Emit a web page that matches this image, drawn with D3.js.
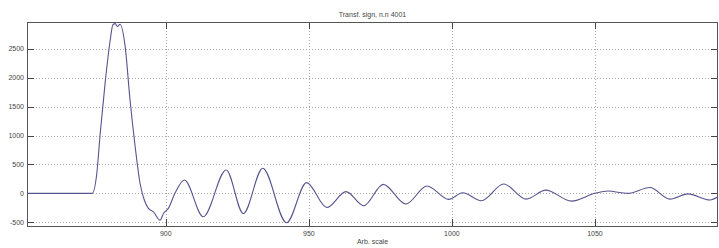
<!DOCTYPE html>
<html>
<head>
<meta charset="utf-8">
<script src="https://cdn.jsdelivr.net/npm/d3@7"></script>
<style>
	body { margin: 0; background: #fff; }
	text { font-family: "Liberation Sans", Arial, sans-serif; fill: #444; }
</style>
</head>
<body>
<div id="chart"></div>
<script>
var WIDTH = 719
var HEIGHT = 248

var title = "Transf. sign, n.n 4001";
var xLabel = "Arb. scale";

var xTicks = [900, 950, 1000, 1050];
var yTicks = [-500, 0, 500, 1000, 1500, 2000, 2500];

// signal (x in arb. scale, y amplitude)
var signalX = [851.5, 860, 870, 874.3, 875.9, 877.1, 878.8, 880.6, 881.5, 882.3, 883.1, 884.0,
	885.8, 887.5, 889.3, 891.0, 892.5, 893.9, 895.7, 898.0, 899.2, 900.9, 903.2, 906.5,
	913.1, 921.1, 927.1, 933.9, 942.2, 949.2, 956.3, 963.0, 969.2, 976.0, 983.9, 991.3,
	998.9, 1003.8, 1010.3, 1018.1, 1026.0, 1032.8, 1041.8, 1050.0, 1054.5, 1061.5, 1069.2,
	1076.2, 1082.5, 1090.2, 1093.0];
var signalY = [0, 0, 0, 0, 347, 1045, 1910, 2660, 2920, 2940, 2890, 2930,
	2545, 1620, 810, 175, -115, -260, -320, -465, -350, -260, 0, 230,
	-405, 405, -350, 435, -510, 185, -245, 30, -215, 155, -185, 127,
	-105, 10, -128, 162, -100, 55, -135, 0, 40, 0, 100,
	-100, -10, -115, -60];

var margin = {left: 27, top: 22, right: 1, bottom: 22};
var plotW = WIDTH - margin.left - margin.right;
var plotH = HEIGHT - margin.top - margin.bottom;

var x = d3.scaleLinear().domain([851.5, 1093]).range([0, plotW]);
var y = d3.scaleLinear().domain([-566, 2968]).range([plotH, 0]);

var svg = d3.select("#chart")
	.append("svg")
	.attr("width", WIDTH)
	.attr("height", HEIGHT);

var g = svg.append("g")
	.attr("transform", "translate(" + margin.left + "," + margin.top + ")");

// grid
g.selectAll(".ygrid")
	.data(yTicks)
	.enter().append("line")
	.attr("class", "ygrid")
	.attr("x1", 0).attr("x2", plotW)
	.attr("y1", function(d) { return Math.round(y(d)) + 0.5; })
	.attr("y2", function(d) { return Math.round(y(d)) + 0.5; })
	.style("stroke", "#aaa")
	.style("stroke-dasharray", "1,2");

g.selectAll(".xgrid")
	.data(xTicks)
	.enter().append("line")
	.attr("class", "xgrid")
	.attr("y1", 0).attr("y2", plotH)
	.attr("x1", function(d) { return Math.round(x(d)) + 0.5; })
	.attr("x2", function(d) { return Math.round(x(d)) + 0.5; })
	.style("stroke", "#aaa")
	.style("stroke-dasharray", "1,2");

// ticks (inward, on all four sides)
var TL = 7;
g.selectAll(".ytick")
	.data(yTicks)
	.enter().append("path")
	.attr("d", function(d) {
		var yy = Math.round(y(d)) + 0.5;
		return "M0," + yy + "h" + TL + "M" + plotW + "," + yy + "h" + (-TL);
	})
	.style("stroke", "#444");

g.selectAll(".xtick")
	.data(xTicks)
	.enter().append("path")
	.attr("d", function(d) {
		var xx = Math.round(x(d)) + 0.5;
		return "M" + xx + ",0v" + TL + "M" + xx + "," + plotH + "v" + (-TL);
	})
	.style("stroke", "#444");

// box
g.append("rect")
	.attr("x", 0.5).attr("y", 0.5)
	.attr("width", plotW - 1).attr("height", plotH)
	.style("fill", "none")
	.style("stroke", "#555");

// tick labels
g.selectAll(".ylab")
	.data(yTicks)
	.enter().append("text")
	.attr("x", -3)
	.attr("y", function(d) { return y(d); })
	.attr("dy", "0.35em")
	.attr("text-anchor", "end")
	.style("font-size", "7px")
	.text(function(d) { return d; });

g.selectAll(".xlab")
	.data(xTicks)
	.enter().append("text")
	.attr("x", function(d) { return x(d); })
	.attr("y", plotH + 9.5)
	.attr("text-anchor", "middle")
	.style("font-size", "7px")
	.text(function(d) { return d; });

// signal
var pts = signalX.map(function(v, i) { return [v, signalY[i]]; });
var line = d3.line()
	.x(function(d) { return x(d[0]); })
	.y(function(d) { return y(d[1]); })
	.curve(d3.curveMonotoneX);

g.append("path")
	.datum(pts)
	.attr("d", line)
	.style("fill", "none")
	.style("stroke", "#55558e")
	.style("stroke-width", 1.1);

// title, x label
svg.append("text")
	.attr("x", margin.left + plotW / 2)
	.attr("y", 16.5)
	.attr("text-anchor", "middle")
	.style("font-size", "7px")
	.text(title);

svg.append("text")
	.attr("x", margin.left + plotW / 2)
	.attr("y", 243.5)
	.attr("text-anchor", "middle")
	.style("font-size", "7px")
	.text(xLabel);
</script>
</body>
</html>
